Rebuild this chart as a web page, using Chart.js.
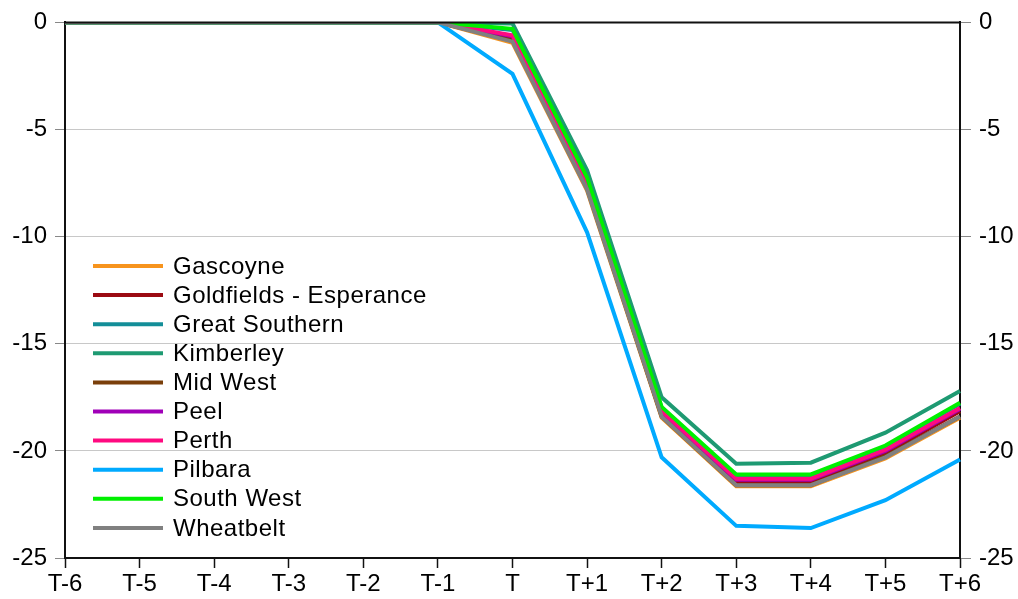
<!DOCTYPE html>
<html>
<head>
<meta charset="utf-8">
<script src="https://cdn.jsdelivr.net/npm/chart.js@4/dist/chart.umd.min.js"></script>
<style>
  html, body { margin: 0; padding: 0; background: #fff; }
  #wrap { width: 1018px; height: 599px; }
</style>
</head>
<body>
<div id="wrap"><canvas id="c" width="1018" height="599"></canvas></div>
<script>
// Event-time periods along the horizontal axis
const periods = ['T-6', 'T-5', 'T-4', 'T-3', 'T-2', 'T-1', 'T', 'T+1', 'T+2', 'T+3', 'T+4', 'T+5', 'T+6'];

// Regions of Western Australia (per cent change)
const regions = ['Gascoyne', 'Goldfields - Esperance', 'Great Southern', 'Kimberley', 'Mid West',
                 'Peel', 'Perth', 'Pilbara', 'South West', 'Wheatbelt'];

const gascoyne      = [0, 0, 0, 0, 0, 0, -0.95, -7.85, -18.45, -21.65, -21.65, -20.35, -18.45];
const goldfields    = [0, 0, 0, 0, 0, 0, -0.75, -7.6, -18.25, -21.45, -21.45, -20.1, -18.15];
const greatSouthern = [0, 0, 0, 0, 0, 0, -0.35, -7.3, -18.0, -21.2, -21.15, -19.8, -17.8];
const kimberley     = [0, 0, 0, 0, 0, 0, -0.05, -6.9, -17.5, -20.6, -20.55, -19.15, -17.2];
const midWest       = [0, 0, 0, 0, 0, 0, -0.85, -7.75, -18.4, -21.6, -21.6, -20.25, -18.4];
const peel          = [0, 0, 0, 0, 0, 0, -0.65, -7.55, -18.2, -21.35, -21.35, -20.0, -18.05];
const perth         = [0, 0, 0, 0, 0, 0, -0.6, -7.5, -18.15, -21.3, -21.3, -19.95, -18.0];
const pilbara       = [0, 0, 0, 0, 0, 0, -2.4, -9.8, -20.3, -23.5, -23.6, -22.3, -20.4];
const southWest     = [0, 0, 0, 0, 0, 0, -0.3, -7.25, -17.95, -21.1, -21.1, -19.75, -17.75];
const wheatbelt     = [0, 0, 0, 0, 0, 0, -0.9, -7.8, -18.4, -21.6, -21.6, -20.3, -18.4];

const yTicks = [0, -5, -10, -15, -20, -25];

const seriesValues = [gascoyne, goldfields, greatSouthern, kimberley, midWest,
                      peel, perth, pilbara, southWest, wheatbelt];
const seriesColors = ['#F7941D', '#9B0A12', '#138E98', '#1E9A72', '#7A3F0A',
                      '#A000B8', '#FF0A80', '#00AAFF', '#00F000', '#808080'];

const FONT = 'Liberation Sans, Arial, sans-serif';
const FONT_SIZE = 24;

// later regions are painted over earlier ones
const datasets = regions.map((name, i) => ({
  label: name,
  data: seriesValues[i],
  borderColor: seriesColors[i],
  backgroundColor: seriesColors[i],
  borderWidth: 4,
  pointRadius: 0,
  tension: 0,
  fill: false,
  order: regions.length - i
}));

// Frame line along the top of the plot and an in-plot legend
const framePlugin = {
  id: 'frameAndLegend',
  afterDatasetsDraw(chart) {
    const ctx = chart.ctx;
    const a = chart.chartArea;
    ctx.save();
    ctx.strokeStyle = '#111';
    ctx.lineWidth = 2;
    ctx.beginPath();
    ctx.moveTo(a.left - 1, a.top);
    ctx.lineTo(a.right + 1, a.top);
    ctx.stroke();

    // legend entries
    const x0 = a.left + 28, x1 = a.left + 98, tx = a.left + 108;
    let y = 266;
    ctx.font = FONT_SIZE + 'px ' + FONT;
    if ('letterSpacing' in ctx) ctx.letterSpacing = '0.5px';
    ctx.textBaseline = 'middle';
    ctx.textAlign = 'left';
    regions.forEach((name, i) => {
      ctx.strokeStyle = seriesColors[i];
      ctx.lineWidth = 4;
      ctx.beginPath();
      ctx.moveTo(x0, y);
      ctx.lineTo(x1, y);
      ctx.stroke();
      ctx.fillStyle = '#000';
      ctx.fillText(name, tx, y + 1);
      y += 29.1;
    });
    ctx.restore();
  }
};

new Chart(document.getElementById('c'), {
  type: 'line',
  data: { labels: periods, datasets },
  options: {
    responsive: false,
    animation: false,
    devicePixelRatio: 1,
    layout: { padding: { top: 22, left: 0, right: 0, bottom: 0 } },
    plugins: { legend: { display: false }, tooltip: { enabled: false } },
    scales: {
      x: {
        offset: false,
        grid: { drawOnChartArea: false, drawTicks: true, tickLength: 10, tickColor: '#111', tickWidth: 1.5 },
        border: { color: '#111', width: 2 },
        ticks: { color: '#000', font: { family: FONT, size: FONT_SIZE }, maxRotation: 0, autoSkip: false, padding: 2 },
        afterFit(s) { s.height = 41; }
      },
      y: {
        position: 'left',
        min: -25, max: 0,
        afterBuildTicks(s) { s.ticks = yTicks.map(v => ({ value: v })); },
        grid: { color: '#C8C8C8', lineWidth: 1, drawTicks: true, tickLength: 10, tickColor: '#888', tickWidth: 1 },
        border: { color: '#111', width: 2 },
        ticks: { color: '#000', font: { family: FONT, size: FONT_SIZE }, padding: 8 },
        afterFit(s) { s.width = 65; }
      },
      y2: {
        position: 'right',
        min: -25, max: 0,
        afterBuildTicks(s) { s.ticks = yTicks.map(v => ({ value: v })); },
        grid: { drawOnChartArea: false, drawTicks: true, tickLength: 11, tickColor: '#888', tickWidth: 1 },
        border: { color: '#111', width: 2 },
        ticks: { color: '#000', font: { family: FONT, size: FONT_SIZE }, padding: 8 },
        afterFit(s) { s.width = 58; }
      }
    }
  },
  plugins: [framePlugin]
});
</script>
</body>
</html>
